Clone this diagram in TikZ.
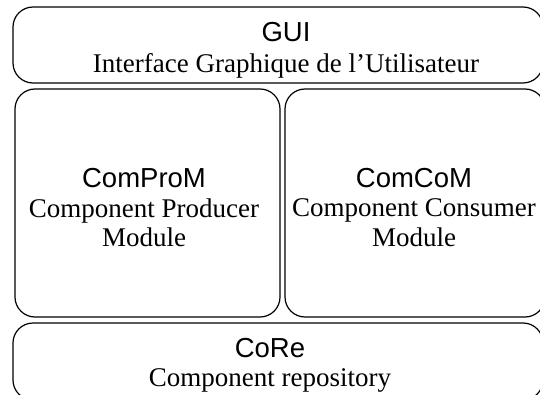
\documentclass[tikz,border=0pt]{standalone}
\usepackage{fontspec}
\setmainfont{Liberation Serif}
\setsansfont{Liberation Sans}
\usetikzlibrary{positioning}

\begin{document}
\begin{tikzpicture}[x=1pt,y=1pt,font=\fontsize{27}{29.5}\selectfont,
  box/.style={draw,line width=1.2pt,rounded corners=20pt,inner sep=0pt},
  txt/.style={align=center,inner sep=0pt},
  ttl/.style={inner sep=0pt,font=\fontsize{27.5}{30}\selectfont\sffamily}]
\useasboundingbox (0,0) rectangle (540,394);
\node[box,minimum width=530pt,minimum height=76pt] (gui) at (278,349) {};
\node[box,minimum width=265pt,minimum height=228pt] (prod) at (147.5,191) {};
\node[box,minimum width=260pt,minimum height=228pt] (cons) at (415,191) {};
\node[box,minimum width=530pt,minimum height=77pt] (core) at (278,32.5) {};
% labels
\node[ttl] (guit) at (286,361.5) {GUI};
\node[txt,below=10.5pt of guit] (guid) {Interface Graphique de l'Utilisateur};
\node[ttl] (prodt) at (144,216) {ComProM};
\node[txt,below=10.5pt of prodt] (prodd) {Component Producer\\Module};
\node[ttl] (const) at (414,216) {ComCoM};
\node[txt,below=10.5pt of const] (consd) {Component Consumer\\Module};
\node[ttl] (coret) at (270,46) {CoRe};
\node[txt,below=10.5pt of coret] (cored) {Component repository};
\end{tikzpicture}
\end{document}
